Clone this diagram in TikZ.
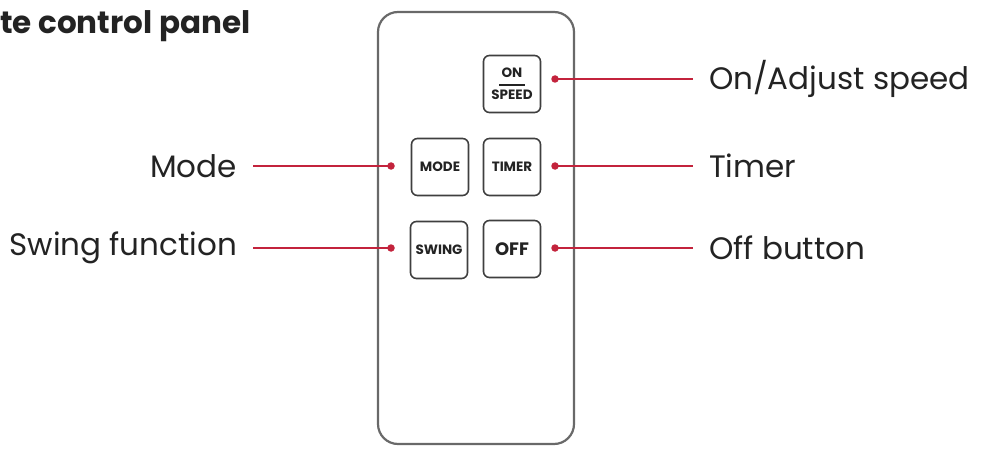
\documentclass[tikz,border=0pt]{standalone}
\usepackage{fontspec}
\setmainfont{Poppins}
\usepackage{tikz}
\usetikzlibrary{positioning}
\definecolor{leadred}{RGB}{195,35,60}
\definecolor{casegray}{RGB}{105,105,105}
\definecolor{inkgray}{RGB}{35,35,35}

\begin{document}
\begin{tikzpicture}[
    x=1pt, y=-1pt,
    remote/.style={draw=casegray, line width=2.2pt, rounded corners=20pt,
                   minimum width=196pt, minimum height=432pt, inner sep=0pt},
    btn/.style={draw=casegray!60!black, line width=1.6pt, rounded corners=6pt,
                minimum size=57pt, inner sep=0pt, align=center, text=inkgray,
                font=\fontsize{13.5}{12}\selectfont\bfseries},
    dot/.style={circle, fill=leadred, minimum size=7.5pt, inner sep=0pt},
    lead/.style={draw=leadred, line width=1.6pt},
    lbl/.style={inner sep=0pt, outer xsep=16pt, text=inkgray,
                font=\fontsize{31}{36}\selectfont},
]
    \useasboundingbox (0,0) rectangle (981,449);

    \node[anchor=west, inner sep=0pt, text=inkgray,
          font=\fontsize{31}{36}\selectfont\bfseries] (title) at (0,26) {te control panel};

    % Remote body
    \node[remote] (body) at (476,228) {};

    % Buttons
    \node[btn] (on) at (512,84) {ON\\[-4pt]\rule{26pt}{1.4pt}\\[2pt]SPEED};
    \node[btn] (mode) at (440,167) {MODE};
    \node[btn] (timer) at (512,167) {TIMER};
    \node[btn] (swing) at (439,250) {SWING};
    \node[btn, font=\fontsize{18}{20}\selectfont\bfseries] (off) at (512,249) {OFF};

    % Pointer dots
    \node[dot] (don) at (555,79) {};
    \node[dot] (dmode) at (391,166) {};
    \node[dot] (dtimer) at (555,166) {};
    \node[dot] (dswing) at (391,248) {};
    \node[dot] (doff) at (555,248) {};

    % Labels
    \node[lbl, anchor=west, right=138pt of don.center] (lon) {On/Adjust speed};
    \node[lbl, anchor=east, left=138pt of dmode.center] (lmode) {Mode};
    \node[lbl, anchor=west, right=138pt of dtimer.center] (ltimer) {Timer};
    \node[lbl, anchor=east, left=138pt of dswing.center] (lswing) {Swing function};
    \node[lbl, anchor=west, right=138pt of doff.center] (loff) {Off button};

    \draw[lead] (don.center) -- (lon.west);
    \draw[lead] (dmode.center) -- (lmode.east);
    \draw[lead] (dtimer.center) -- (ltimer.west);
    \draw[lead] (dswing.center) -- (lswing.east);
    \draw[lead] (doff.center) -- (loff.west);
\end{tikzpicture}
\end{document}
